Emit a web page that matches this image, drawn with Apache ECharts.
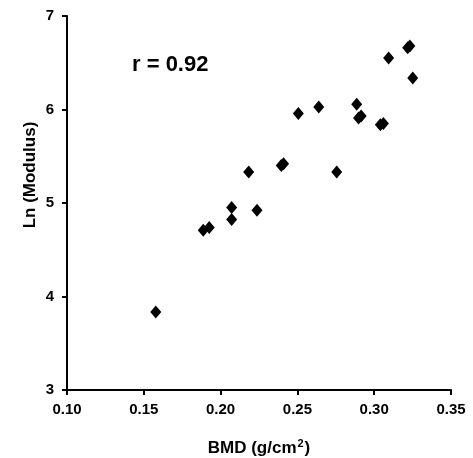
<!DOCTYPE html>
<html>
<head>
<meta charset="utf-8">
<script src="https://cdn.jsdelivr.net/npm/echarts@6/dist/echarts.min.js"></script>
<style>
html,body{margin:0;padding:0;background:#fff;}
#chart{width:473px;height:458px;}
</style>
</head>
<body>
<div id="chart"></div>
<script>
// BMD (g/cm^2) values
var bmd = [0.1578, 0.1887, 0.1926, 0.2072, 0.2072, 0.2237, 0.2183, 0.2395, 0.2410, 0.2756,
           0.2506, 0.2639, 0.2886, 0.2898, 0.2915, 0.3040, 0.3060, 0.3094, 0.3218, 0.3232, 0.3251];
// Ln(Modulus) values
var lnModulus = [3.833, 4.709, 4.738, 4.952, 4.824, 4.923, 5.332, 5.400, 5.420, 5.332,
                 5.956, 6.027, 6.056, 5.910, 5.930, 5.838, 5.850, 6.550, 6.660, 6.680, 6.337];
var xTicks = [0.10, 0.15, 0.20, 0.25, 0.30, 0.35];
var yTicks = [3, 4, 5, 6, 7];
var annotation = 'r = 0.92';

var points = bmd.map(function (x, i) { return [x, lnModulus[i]]; });
var font = '"Liberation Sans", Arial, sans-serif';

var chart = echarts.init(document.getElementById('chart'), null, {renderer: 'canvas'});
chart.setOption({
  backgroundColor: '#ffffff',
  animation: false,
  grid: {left: 67, top: 16, width: 384, height: 374, containLabel: false, outerBoundsMode: 'none'},
  xAxis: {
    type: 'value',
    min: xTicks[0], max: xTicks[xTicks.length - 1], interval: 0.05,
    name: '{a|BMD (g/cm}{s|2}{a|)}',
    nameLocation: 'middle', nameGap: 48,
    nameTextStyle: {
      rich: {
        a: {fontFamily: font, fontWeight: 'bold', fontSize: 17, color: '#000'},
        s: {fontFamily: font, fontWeight: 'bold', fontSize: 11, color: '#000', verticalAlign: 'top', padding: [0, 1, 9, 1]}
      }
    },
    axisLine: {show: true, onZero: false, lineStyle: {color: '#000', width: 2}},
    axisTick: {show: true, length: 5, inside: false, lineStyle: {color: '#000', width: 2}},
    axisLabel: {fontFamily: font, fontWeight: 'bold', fontSize: 15, color: '#000', margin: 12,
      formatter: function (v) { return v.toFixed(2); }},
    splitLine: {show: false}
  },
  yAxis: {
    type: 'value',
    min: yTicks[0], max: yTicks[yTicks.length - 1], interval: 1,
    name: 'Ln (Modulus)',
    nameLocation: 'middle', nameGap: 28, nameRotate: 90, nameMoveOverlap: false,
    nameTextStyle: {fontFamily: font, fontWeight: 'bold', fontSize: 17, color: '#000', padding: [0, 0, 0, 56]},
    axisLine: {show: true, onZero: false, lineStyle: {color: '#000', width: 2}},
    axisTick: {show: true, length: 5, inside: false, lineStyle: {color: '#000', width: 2}},
    axisLabel: {fontFamily: font, fontWeight: 'bold', fontSize: 15, color: '#000', margin: 13},
    splitLine: {show: false}
  },
  graphic: [{
    type: 'text', left: 132, top: 54,
    style: {text: annotation, font: 'bold 22px "Liberation Sans", Arial, sans-serif', fill: '#000'}
  }],
  series: [{
    type: 'scatter',
    data: points,
    symbol: 'diamond',
    symbolSize: [11, 13],
    itemStyle: {color: '#000', opacity: 1}
  }]
});
</script>
</body>
</html>
